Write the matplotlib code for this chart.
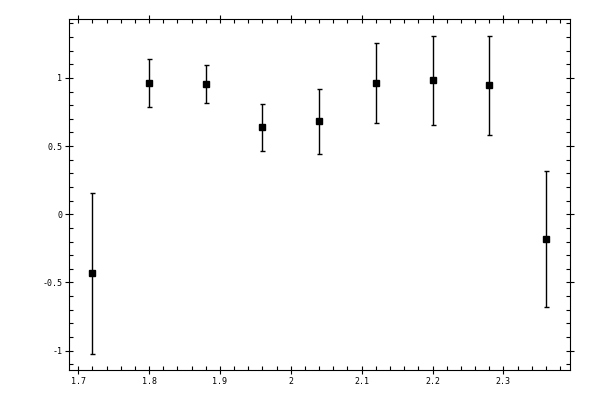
import numpy as np
import matplotlib.pyplot as plt
from matplotlib.ticker import MultipleLocator, FuncFormatter

# dane
x = [1.72, 1.80, 1.88, 1.96, 2.04, 2.12, 2.20, 2.28, 2.36]
y = [-0.433, 0.961, 0.954, 0.638, 0.682, 0.961, 0.983, 0.946, -0.183]
yerr = [0.59, 0.176, 0.14, 0.172, 0.24, 0.294, 0.327, 0.363, 0.497]

plt.rcParams['font.family'] = 'DejaVu Sans Mono'

fig = plt.figure(figsize=(6, 4), dpi=100)
ax = fig.add_axes([0.115, 0.075, 0.835, 0.877])

ax.errorbar(x, y, yerr=yerr, fmt='s', color='black', markersize=5,
            elinewidth=1, capsize=1.8, capthick=1)

ax.set_xlim(1.687, 2.394)
ax.set_ylim(-1.142, 1.431)

ax.xaxis.set_major_locator(MultipleLocator(0.1))
ax.xaxis.set_minor_locator(MultipleLocator(0.02))
ax.yaxis.set_major_locator(MultipleLocator(0.5))
ax.yaxis.set_minor_locator(MultipleLocator(0.1))

fmt = FuncFormatter(lambda v, p: '%g' % round(v, 3))
ax.xaxis.set_major_formatter(fmt)
ax.yaxis.set_major_formatter(fmt)

ax.tick_params(which='major', direction='inout', length=5.8, width=0.8,
               top=True, right=True, labelsize=6, pad=2)
ax.tick_params(which='minor', direction='in', length=2.9, width=0.8,
               top=True, right=True)
for s in ax.spines.values():
    s.set_linewidth(0.8)

plt.savefig('out.png', dpi=100)
